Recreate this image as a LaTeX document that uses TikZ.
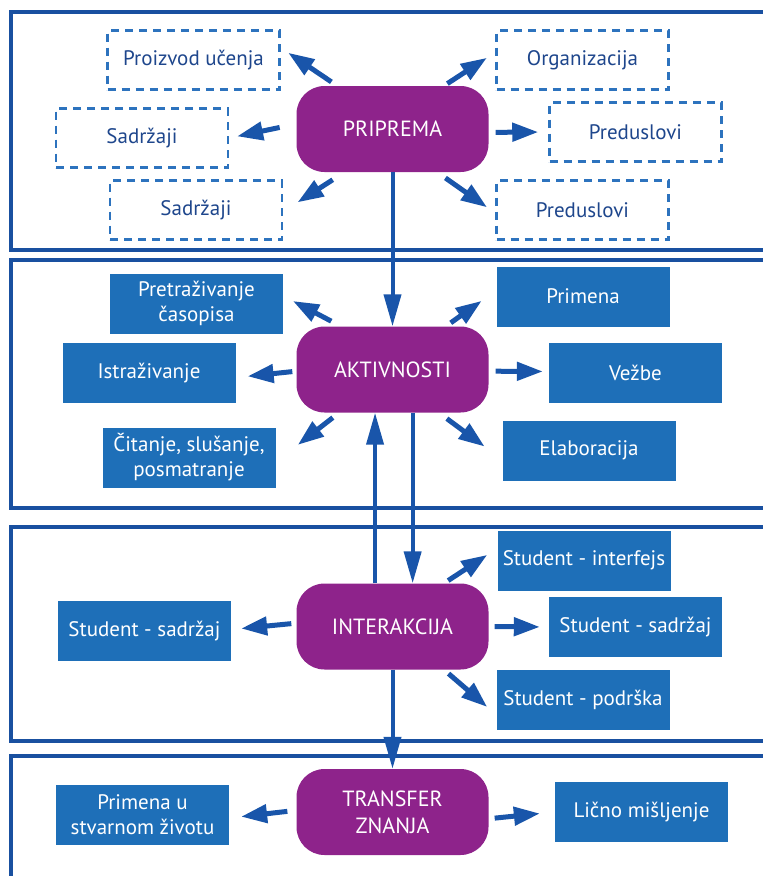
\documentclass[tikz,border=0pt]{standalone}
\usepackage{fontspec}
\setmainfont{PT Sans}
\usetikzlibrary{arrows.meta}
\definecolor{hubpurple}{RGB}{142,35,139}
\definecolor{boxblue}{RGB}{30,111,184}
\definecolor{frameblue}{RGB}{25,80,160}
\definecolor{arrowblue}{RGB}{25,85,170}
\definecolor{dashblue}{RGB}{45,115,190}
\definecolor{textnavy}{RGB}{30,70,140}

\begin{document}
\begin{tikzpicture}[x=1pt, y=-1pt,
  hub/.style={fill=hubpurple, rounded corners=28pt, minimum width=192pt,
    minimum height=86pt, text=white, align=center,
    font=\fontsize{22}{27}\selectfont},
  dbox/.style={draw=dashblue, line width=2.5pt, dash pattern=on 8pt off 6pt,
    minimum width=172pt, minimum height=59pt, text=textnavy,
    font=\fontsize{21}{25}\selectfont},
  sbox/.style={fill=boxblue, minimum width=173pt, minimum height=60pt,
    text=white, align=center, font=\fontsize{21}{25}\selectfont},
  frame/.style={draw=frameblue, line width=4.5pt},
  arr/.style={draw=arrowblue, line width=5pt,
    -{Triangle[length=26pt,width=18pt]}},
  varr/.style={draw=arrowblue, line width=4pt,
    -{Triangle[length=32pt,width=17pt]}}]
\useasboundingbox (0,0) rectangle (763,876);
% short arrow from hub anchor to box anchor, shortened at both ends
\newcommand{\spoke}[4]{%
  \draw[arr, shorten <=#3pt, shorten >=#4pt] (#1) -- (#2);
}
% panels (open on the right)
\draw[frame] (775,12) -- (11,12) -- (11,250) -- (775,250);
\draw[frame] (775,260) -- (11,260) -- (11,508) -- (775,508);
\draw[frame] (775,527) -- (11,527) -- (11,741) -- (775,741);
\draw[frame] (775,756) -- (11,756) -- (11,890);

% priprema
\node[hub] (prip) at (392.5,129) {PRIPREMA};
\node[dbox] (prod) at (193.5,60) {Proizvod učenja};
\node[dbox] (sadr1) at (142,138) {Sadržaji};
\node[dbox] (sadr2) at (196,210) {Sadržaji};
\node[dbox] (org) at (582.5,60) {Organizacija};
\node[dbox] (pred1) at (635.5,132) {Preduslovi};
\node[dbox] (pred2) at (582.5,210) {Preduslovi};
\spoke{prip.142}{prod.8}{7}{9}
\spoke{prip.177}{sadr1.0}{17}{8}
\spoke{prip.-138}{sadr2.-1}{14}{17}
\spoke{prip.40}{org.175}{4}{10}
\spoke{prip.-2}{pred1.180}{7}{10}
\spoke{prip.-44}{pred2.-178}{10}{10}

% aktivnosti
\node[hub] (akt) at (392.5,369.5) {AKTIVNOSTI};
\node[sbox] (pret) at (196.5,303.5) {Pretraživanje\\časopisa};
\node[sbox] (istr) at (149,373) {Istraživanje};
\node[sbox] (cit) at (189,457.5) {Čitanje, slušanje,\\posmatranje};
\node[sbox] (prim) at (583,296.5) {Primena};
\node[sbox] (vezb) at (635.5,373) {Vežbe};
\node[sbox] (elab) at (589,450.5) {Elaboracija};
\spoke{akt.140}{pret.5}{11}{11}
\spoke{akt.181}{istr.-3}{4}{12}
\spoke{akt.-141}{cit.-3}{8}{28}
\spoke{akt.39}{prim.176}{6}{18}
\spoke{akt.-1}{vezb.179}{7}{6}
\spoke{akt.-43}{elab.-174}{10}{22}

% interakcija
\node[hub] (inter) at (392.5,626.5) {INTERAKCIJA};
\node[sbox] (ssad1) at (144.5,631) {Student - sadržaj};
\node[sbox] (sint) at (584,560.5) {Student - interfejs};
\node[sbox] (ssad2) at (635.5,627) {Student - sadržaj};
\node[sbox] (spod) at (583,699.5) {Student - podrška};
\spoke{inter.178}{ssad1.1}{5}{10}
\spoke{inter.40}{sint.172}{5}{12}
\spoke{inter.0}{ssad2.180}{6}{9}
\spoke{inter.-40}{spod.-170}{6}{12}

% transfer znanja
\node[hub] (trans) at (392.5,812) {TRANSFER\\ZNANJA};
\node[sbox] (prst) at (142.5,815) {Primena u\\stvarnom životu};
\node[sbox] (licno) at (641.5,812) {Lično mišljenje};
\spoke{trans.179}{prst.-2}{9}{12}
\spoke{trans.-4}{licno.180}{6}{15}

% vertical links between the hubs
\draw[varr] (prip.south) -- (akt.north);
\draw[varr] (akt.-65) -- (inter.65);
\draw[varr] (inter.112) -- (akt.-112);
\draw[varr] (inter.south) -- (trans.north);
\end{tikzpicture}
\end{document}
